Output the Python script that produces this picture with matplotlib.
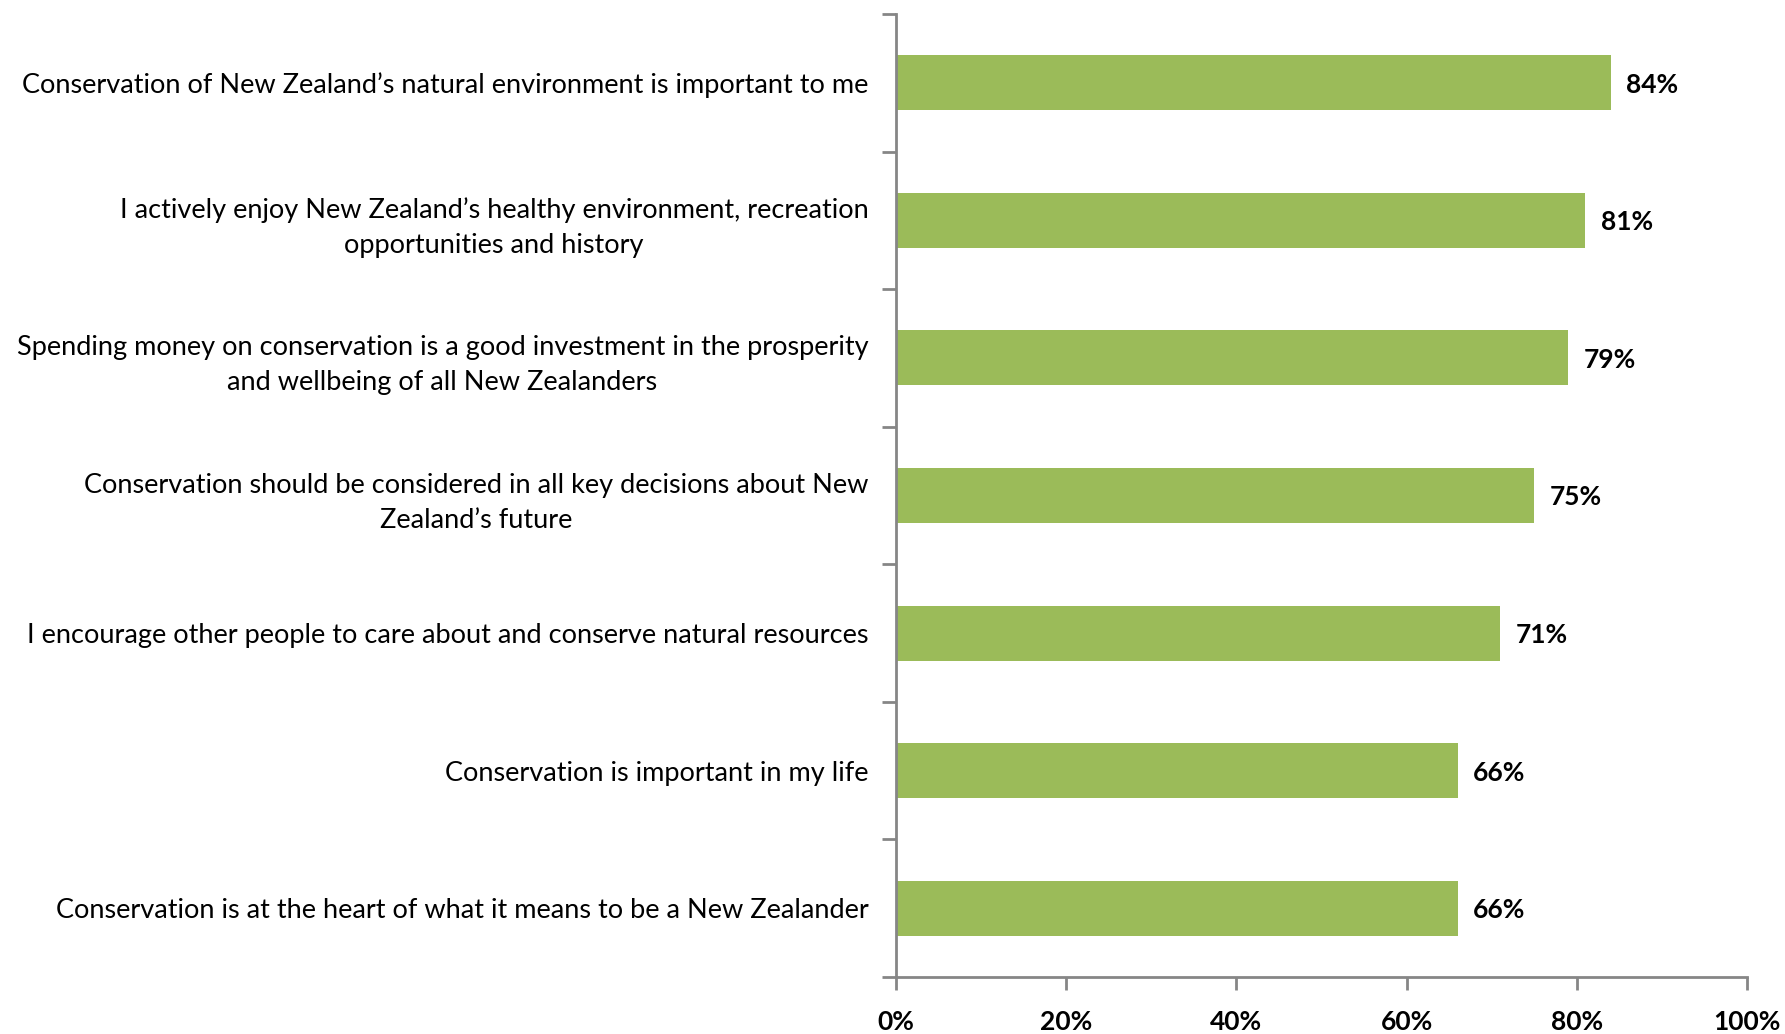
import matplotlib.pyplot as plt
import numpy as np
from matplotlib.ticker import FixedLocator

# 各项陈述及认同比例
statements = [
    "Conservation of New Zealand\u2019s natural environment is important to me",
    "I actively enjoy New Zealand\u2019s healthy environment, recreation\nopportunities and history",
    "Spending money on conservation is a good investment in the prosperity\nand wellbeing of all New Zealanders",
    "Conservation should be considered in all key decisions about New\nZealand\u2019s future",
    "I encourage other people to care about and conserve natural resources",
    "Conservation is important in my life",
    "Conservation is at the heart of what it means to be a New Zealander",
]
agree_pct = [84, 81, 79, 75, 71, 66, 66]
x_ticks = [0, 20, 40, 60, 80, 100]

plt.rcParams['font.family'] = ['Lato', 'DejaVu Sans']

fig = plt.figure(figsize=(17.85, 10.34), dpi=100)
ax = fig.add_axes([0.502, 0.0551, 0.4767, 0.9314])

pos = np.arange(len(statements))
ax.barh(pos, agree_pct, height=0.4, color='#9BBB59')

for p, v in zip(pos, agree_pct):
    ax.text(v + 1.8, p, f'{v}%', va='center_baseline', ha='left', fontsize=19,
            fontweight='bold', color='black')

ax.set_xlim(0, 100)
ax.set_ylim(len(statements) - 0.5, -0.5)

ax.set_xticks(x_ticks)
ax.set_xticklabels([f'{t}%' for t in x_ticks], fontsize=19, fontweight='bold')

ax.set_yticks(pos)
ax.set_yticklabels(statements, fontsize=19.5, ha='right', multialignment='center',
                   linespacing=1.5)
ax.yaxis.set_minor_locator(FixedLocator(np.arange(-0.5, len(statements), 1.0)))

spine_c = '#868686'
for s in ['top', 'right']:
    ax.spines[s].set_visible(False)
for s in ['left', 'bottom']:
    ax.spines[s].set_color(spine_c)
    ax.spines[s].set_linewidth(2)

ax.tick_params(axis='y', which='major', length=0, pad=20)
ax.tick_params(axis='y', which='minor', length=10, width=2, color=spine_c, direction='out')
ax.tick_params(axis='x', which='major', length=9, width=2, color=spine_c, direction='out', pad=15)

fig.savefig('out.png', dpi=100)
